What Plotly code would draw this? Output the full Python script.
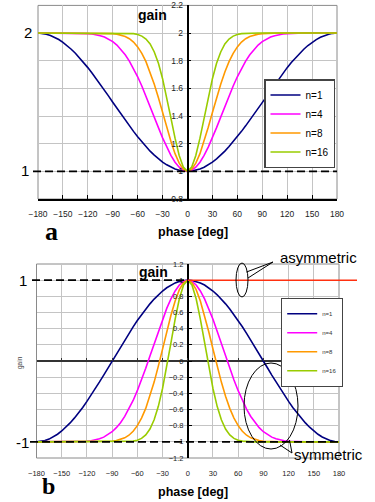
import plotly.graph_objects as go

W, H = 375, 502
FONT = "Liberation Sans, Arial, sans-serif"
SERIF = "Liberation Serif, Times New Roman, serif"

# ---------------- data ----------------
phase = [-180, -175, -170, -165, -160, -155, -150, -145, -140, -135, -130, -125,
         -120, -115, -110, -105, -100, -95, -90, -85, -80, -75, -70, -65,
         -60, -55, -50, -45, -40, -35, -30, -25, -20, -15, -10, -5,
         0,
         5, 10, 15, 20, 25, 30, 35, 40, 45, 50, 55, 60,
         65, 70, 75, 80, 85, 90, 95, 100, 105, 110, 115, 120,
         125, 130, 135, 140, 145, 150, 155, 160, 165, 170, 175, 180]

x_ticks = [-180, -150, -120, -90, -60, -30, 0, 30, 60, 90, 120, 150, 180]
series_names = ["n=1", "n=4", "n=8", "n=16"]
series_colors = ["#000080", "#FF00FF", "#FF9900", "#99CC00"]

# panel a: gain (1 .. 2)
gain_a_n1 = [2.000, 1.998, 1.992, 1.983, 1.970, 1.953, 1.933, 1.910, 1.883, 1.854, 1.821, 1.787,
             1.750, 1.711, 1.671, 1.629, 1.587, 1.544, 1.500, 1.456, 1.413, 1.371, 1.329, 1.289,
             1.250, 1.213, 1.179, 1.146, 1.117, 1.090, 1.067, 1.047, 1.030, 1.017, 1.008, 1.002,
             1.000,
             1.002, 1.008, 1.017, 1.030, 1.047, 1.067, 1.090, 1.117, 1.146, 1.179, 1.213, 1.250,
             1.289, 1.329, 1.371, 1.413, 1.456, 1.500, 1.544, 1.587, 1.629, 1.671, 1.711, 1.750,
             1.787, 1.821, 1.854, 1.883, 1.910, 1.933, 1.953, 1.970, 1.983, 1.992, 1.998, 2.000]
gain_a_n4 = [2.000, 2.000, 2.000, 2.000, 2.000, 2.000, 2.000, 2.000, 2.000, 2.000, 1.999, 1.998,
             1.996, 1.993, 1.988, 1.981, 1.971, 1.957, 1.938, 1.913, 1.881, 1.843, 1.797, 1.744,
             1.684, 1.617, 1.545, 1.469, 1.392, 1.316, 1.242, 1.175, 1.115, 1.066, 1.030, 1.008,
             1.000,
             1.008, 1.030, 1.066, 1.115, 1.175, 1.242, 1.316, 1.392, 1.469, 1.545, 1.617, 1.684,
             1.744, 1.797, 1.843, 1.881, 1.913, 1.938, 1.957, 1.971, 1.981, 1.988, 1.993, 1.996,
             1.998, 1.999, 2.000, 2.000, 2.000, 2.000, 2.000, 2.000, 2.000, 2.000, 2.000, 2.000]
gain_a_n8 = [2.000, 2.000, 2.000, 2.000, 2.000, 2.000, 2.000, 2.000, 2.000, 2.000, 2.000, 2.000,
             2.000, 2.000, 2.000, 2.000, 1.999, 1.998, 1.996, 1.992, 1.986, 1.975, 1.959, 1.935,
             1.900, 1.853, 1.793, 1.718, 1.630, 1.532, 1.426, 1.319, 1.217, 1.128, 1.059, 1.015,
             1.000,
             1.015, 1.059, 1.128, 1.217, 1.319, 1.426, 1.532, 1.630, 1.718, 1.793, 1.853, 1.900,
             1.935, 1.959, 1.975, 1.986, 1.992, 1.996, 1.998, 1.999, 2.000, 2.000, 2.000, 2.000,
             2.000, 2.000, 2.000, 2.000, 2.000, 2.000, 2.000, 2.000, 2.000, 2.000, 2.000, 2.000]
gain_a_n16 = [2.000, 2.000, 2.000, 2.000, 2.000, 2.000, 2.000, 2.000, 2.000, 2.000, 2.000, 2.000,
              2.000, 2.000, 2.000, 2.000, 2.000, 2.000, 2.000, 2.000, 2.000, 1.999, 1.998, 1.996,
              1.990, 1.978, 1.957, 1.921, 1.863, 1.781, 1.670, 1.536, 1.387, 1.240, 1.115, 1.030,
              1.000,
              1.030, 1.115, 1.240, 1.387, 1.536, 1.670, 1.781, 1.863, 1.921, 1.957, 1.978, 1.990,
              1.996, 1.998, 1.999, 2.000, 2.000, 2.000, 2.000, 2.000, 2.000, 2.000, 2.000, 2.000,
              2.000, 2.000, 2.000, 2.000, 2.000, 2.000, 2.000, 2.000, 2.000, 2.000, 2.000, 2.000]

# panel b: gain (1 .. -1)
gain_b_n1 = [-1.000, -0.996, -0.985, -0.966, -0.940, -0.906, -0.866, -0.819, -0.766, -0.707, -0.643, -0.574,
             -0.500, -0.423, -0.342, -0.259, -0.174, -0.087, 0.000, 0.087, 0.174, 0.259, 0.342, 0.423,
             0.500, 0.574, 0.643, 0.707, 0.766, 0.819, 0.866, 0.906, 0.940, 0.966, 0.985, 0.996,
             1.000,
             0.996, 0.985, 0.966, 0.940, 0.906, 0.866, 0.819, 0.766, 0.707, 0.643, 0.574, 0.500,
             0.423, 0.342, 0.259, 0.174, 0.087, 0.000, -0.087, -0.174, -0.259, -0.342, -0.423, -0.500,
             -0.574, -0.643, -0.707, -0.766, -0.819, -0.866, -0.906, -0.940, -0.966, -0.985, -0.996, -1.000]
gain_b_n4 = [-1.000, -1.000, -1.000, -1.000, -1.000, -1.000, -1.000, -1.000, -1.000, -0.999, -0.998, -0.996,
             -0.992, -0.986, -0.977, -0.962, -0.942, -0.913, -0.875, -0.825, -0.763, -0.686, -0.595, -0.488,
             -0.367, -0.234, -0.090, 0.062, 0.216, 0.369, 0.516, 0.651, 0.769, 0.867, 0.940, 0.985,
             1.000,
             0.985, 0.940, 0.867, 0.769, 0.651, 0.516, 0.369, 0.216, 0.062, -0.090, -0.234, -0.367,
             -0.488, -0.595, -0.686, -0.763, -0.825, -0.875, -0.913, -0.942, -0.962, -0.977, -0.986, -0.992,
             -0.996, -0.998, -0.999, -1.000, -1.000, -1.000, -1.000, -1.000, -1.000, -1.000, -1.000, -1.000]
gain_b_n8 = [-1.000, -1.000, -1.000, -1.000, -1.000, -1.000, -1.000, -1.000, -1.000, -1.000, -1.000, -1.000,
             -1.000, -1.000, -1.000, -0.999, -0.998, -0.996, -0.992, -0.985, -0.972, -0.951, -0.918, -0.869,
             -0.800, -0.706, -0.586, -0.437, -0.261, -0.063, 0.148, 0.362, 0.565, 0.743, 0.882, 0.970,
             1.000,
             0.970, 0.882, 0.743, 0.565, 0.362, 0.148, -0.063, -0.261, -0.437, -0.586, -0.706, -0.800,
             -0.869, -0.918, -0.951, -0.972, -0.985, -0.992, -0.996, -0.998, -0.999, -1.000, -1.000, -1.000,
             -1.000, -1.000, -1.000, -1.000, -1.000, -1.000, -1.000, -1.000, -1.000, -1.000, -1.000, -1.000]
gain_b_n16 = [-1.000, -1.000, -1.000, -1.000, -1.000, -1.000, -1.000, -1.000, -1.000, -1.000, -1.000, -1.000,
              -1.000, -1.000, -1.000, -1.000, -1.000, -1.000, -1.000, -1.000, -1.000, -0.999, -0.997, -0.991,
              -0.980, -0.957, -0.914, -0.841, -0.727, -0.561, -0.340, -0.072, 0.225, 0.519, 0.770, 0.940,
              1.000,
              0.940, 0.770, 0.519, 0.225, -0.072, -0.340, -0.561, -0.727, -0.841, -0.914, -0.957, -0.980,
              -0.991, -0.997, -0.999, -1.000, -1.000, -1.000, -1.000, -1.000, -1.000, -1.000, -1.000, -1.000,
              -1.000, -1.000, -1.000, -1.000, -1.000, -1.000, -1.000, -1.000, -1.000, -1.000, -1.000, -1.000]

series_a = [gain_a_n1, gain_a_n4, gain_a_n8, gain_a_n16]
series_b = [gain_b_n1, gain_b_n4, gain_b_n8, gain_b_n16]


# ---------------- layout helpers ----------------
def px(x):
    return x / W


def py(y):
    return 1 - y / H


XA = [px(38), px(337)]
YA = [py(199), py(5.4)]
XB = [px(36.5), px(339)]
YB = [py(458), py(264)]
XA_MID = (XA[0] + XA[1]) / 2
XB_MID = (XB[0] + XB[1]) / 2
YB_MID = (YB[0] + YB[1]) / 2

fig = go.Figure()

for name, color, ys in zip(series_names, series_colors, series_a):
    fig.add_trace(go.Scatter(x=phase, y=ys, mode="lines", name=name,
                             line=dict(color=color, width=1.6),
                             xaxis="x", yaxis="y", legend="legend"))
for name, color, ys in zip(series_names, series_colors, series_b):
    fig.add_trace(go.Scatter(x=phase, y=ys, mode="lines", name=name,
                             line=dict(color=color, width=1.6),
                             xaxis="x2", yaxis="y2", legend="legend2"))
# carrier for the tick marks on the zero line of panel b
fig.add_trace(go.Scatter(x=[None], y=[None], xaxis="x3", yaxis="y2",
                         showlegend=False, hoverinfo="skip"))

grid_c = "#c4c4c4"
tick_a = dict(family=FONT, size=8.5, color="#222")
tick_b = dict(family=FONT, size=7.5, color="#222")

fig.update_layout(
    template="none",
    width=W, height=H, autosize=False,
    margin=dict(l=0, r=0, t=0, b=0, pad=0, autoexpand=False),
    paper_bgcolor="white", plot_bgcolor="white",
    xaxis=dict(domain=XA, anchor="y", range=[-180, 180], automargin=False,
               tickmode="array", tickvals=x_ticks,
               showgrid=True, gridcolor=grid_c, gridwidth=1,
               showline=True, linecolor="black", linewidth=1.5,
               ticks="inside", ticklen=4, tickcolor="black",
               tickfont=tick_a, ticklabelstandoff=6, zeroline=False),
    yaxis=dict(domain=YA, anchor="free", position=XA_MID, range=[0.8, 2.2], automargin=False,
               tick0=0.8, dtick=0.2,
               showgrid=True, gridcolor=grid_c, gridwidth=1,
               showline=True, linecolor="black", linewidth=1.5,
               ticks="inside", ticklen=3, tickcolor="black", ticklabelstandoff=2,
               tickfont=tick_a, zeroline=False),
    xaxis2=dict(domain=XB, anchor="y2", range=[-180, 180], automargin=False,
                tickmode="array", tickvals=x_ticks,
                showgrid=True, gridcolor=grid_c, gridwidth=1,
                showline=False, ticks="",
                tickfont=tick_b, ticklabelstandoff=9, zeroline=False),
    xaxis3=dict(overlaying="x2", anchor="free", position=YB_MID, range=[-180, 180], automargin=False,
                tickmode="array", tickvals=x_ticks,
                showgrid=False, showline=False, zeroline=False,
                ticks="inside", ticklen=3, tickcolor="#333", showticklabels=False),
    yaxis2=dict(domain=YB, anchor="free", position=XB_MID, range=[-1.2, 1.2], automargin=False,
                tick0=-1.2, dtick=0.2,
                showgrid=True, gridcolor=grid_c, gridwidth=1,
                showline=True, linecolor="black", linewidth=1.5,
                ticks="inside", ticklen=3, tickcolor="black", ticklabelstandoff=2,
                tickfont=tick_b, zeroline=True, zerolinecolor="#333", zerolinewidth=1.5),
    legend=dict(x=px(335), xanchor="right", y=py(79), yanchor="top",
                bgcolor="white", bordercolor="#444", borderwidth=1.5,
                font=dict(family=FONT, size=10, color="black"),
                tracegroupgap=0, itemwidth=30),
    legend2=dict(x=px(343), xanchor="right", y=py(298), yanchor="top",
                 bgcolor="white", bordercolor="#444", borderwidth=1.2,
                 font=dict(family=FONT, size=6, color="#333"),
                 tracegroupgap=0, itemwidth=30),
    showlegend=True,
)

shapes = []
# plot frames
for xr, yr in (("x domain", "y domain"), ("x2 domain", "y2 domain")):
    shapes.append(dict(type="rect", xref=xr, yref=yr, x0=0, x1=1, y0=0, y1=1,
                       line=dict(color="#8a8a8a", width=1), layer="below"))
dash = "8px,4px"
shapes.append(dict(type="line", xref="paper", yref="y", x0=px(33), x1=XA[1], y0=1, y1=1,
                   line=dict(color="black", width=1.8, dash=dash)))
shapes.append(dict(type="line", xref="paper", yref="y2", x0=px(32), x1=XB_MID, y0=1, y1=1,
                   line=dict(color="black", width=1.8, dash=dash)))
shapes.append(dict(type="line", xref="paper", yref="y2", x0=px(30), x1=XB[1], y0=-1, y1=-1,
                   line=dict(color="black", width=1.8, dash=dash)))
shapes.append(dict(type="line", xref="paper", yref="y2", x0=XB_MID, x1=px(357), y0=1, y1=1,
                   line=dict(color="#FF3010", width=1.5)))
# callouts
shapes.append(dict(type="circle", xref="paper", yref="paper",
                   x0=px(236), x1=px(248), y0=py(297), y1=py(263),
                   line=dict(color="black", width=1)))
shapes.append(dict(type="path", xref="paper", yref="paper",
                   path=f"M {px(246.5)},{py(272)} L {px(273)},{py(262)} L {px(248)},{py(278)}",
                   line=dict(color="black", width=1)))
shapes.append(dict(type="circle", xref="paper", yref="paper",
                   x0=px(244), x1=px(298), y0=py(449), y1=py(363),
                   line=dict(color="black", width=1)))
shapes.append(dict(type="path", xref="paper", yref="paper",
                   path=f"M {px(280)},{py(445)} L {px(292)},{py(453)} L {px(289.5)},{py(440)}",
                   line=dict(color="black", width=1)))
fig.update_layout(shapes=shapes)

ann = []


def text(x, y, s, size, bold=False, family=FONT, color="black", angle=0, xanchor="center"):
    ann.append(dict(xref="paper", yref="paper", x=px(x), y=py(y), text=f"<b>{s}</b>" if bold else s,
                    showarrow=False, xanchor=xanchor, yanchor="middle", textangle=angle,
                    font=dict(family=family, size=size, color=color)))


text(28, 33, "2", 15)
text(25, 171, "1", 15)
text(152, 15, "gain", 14, bold=True)
text(193, 232, "phase [deg]", 12.5, bold=True)
text(51, 231, "a", 26, bold=True, family=SERIF)

text(22.5, 280, "1", 15)
text(22.5, 442, "-1", 15)
text(153, 272, "gain", 14, bold=True)
text(20, 363, "gain", 6.5, color="#444", angle=-90)
text(193, 492, "phase [deg]", 12.5, bold=True)
text(48.5, 486, "b", 24, bold=True, family=SERIF)
text(278, 257, "asymmetric", 15, xanchor="left")
text(292, 454, "symmetric", 15, xanchor="left")
fig.update_layout(annotations=ann)

# the page body has a default 8px margin; remove it so the 375x502 figure fills the window
fig.write_html("out.html", config={"displayModeBar": False},
               post_script="document.body.style.margin='0';")
